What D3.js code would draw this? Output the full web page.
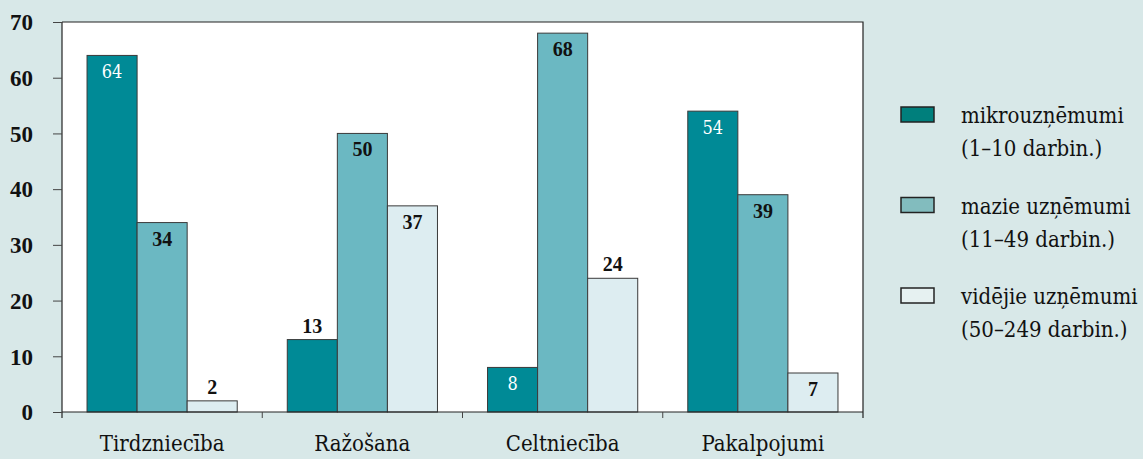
<!DOCTYPE html>
<html><head><meta charset="utf-8">
<script src="https://cdn.jsdelivr.net/npm/d3@7"></script>
<style>
html,body{margin:0;padding:0;background:#d8e8e8;}
svg{display:block;}
</style></head><body>
<svg id="c" width="1143" height="459"></svg>
<script>
const categories = ["Tirdzniecība", "Ražošana", "Celtniecība", "Pakalpojumi"];
const seriesNames = ["mikrouzņēmumi", "mazie uzņēmumi", "vidējie uzņēmumi"];
const seriesSub = ["(1–10 darbin.)", "(11–49 darbin.)", "(50–249 darbin.)"];
const micro = [64, 13, 8, 54];
const small = [34, 50, 68, 39];
const medium = [2, 37, 24, 7];
// label placement for each series/category: "in" = inside top, "out" = above bar
const microLabelPos = ["in", "out", "in", "in"];
const smallLabelPos = ["in", "in", "in", "in"];
const mediumLabelPos = ["out", "in", "out", "in"];
const yTicks = [0, 10, 20, 30, 40, 50, 60, 70];

const barColors = ["#008a96", "#6bb8c2", "#ddedf1"];
const legendColors = ["#007f7c", "#82bcbe", "#e6f1f1"];
const labelColors = ["#ffffff", "#111111", "#111111"];
const FONT_R = '"DejaVu Serif Condensed", "DejaVu Serif", serif';
const FONT_B = '"Liberation Serif", serif';

const series = [micro, small, medium];
const labelPos = [microLabelPos, smallLabelPos, mediumLabelPos];

const svg = d3.select("#c");
const L = 62, R = 863, T = 22, B = 412;

const x0 = d3.scaleBand().domain(categories).range([L, R]).paddingInner(0).paddingOuter(0);
const x1 = d3.scaleBand().domain(d3.range(3)).range([0, x0.bandwidth()]).paddingInner(0).paddingOuter(0.5);
const y = d3.scaleLinear().domain([0, 70]).range([B, T]);

svg.append("rect").attr("x", L).attr("y", T).attr("width", R - L).attr("height", B - T)
  .attr("fill", "#ffffff");

const g = svg.append("g");
categories.forEach((c, ci) => {
  series.forEach((s, si) => {
    const v = s[ci];
    const bx = x0(c) + x1(si);
    g.append("rect")
      .attr("x", bx).attr("y", y(v))
      .attr("width", x1.bandwidth()).attr("height", y(0) - y(v))
      .attr("fill", barColors[si]).attr("stroke", "#3a3a3a").attr("stroke-width", 1);
    const inside = labelPos[si][ci] === "in";
    const white = si === 0 && inside;
    g.append("text")
      .attr("x", bx + x1.bandwidth() / 2)
      .attr("y", inside ? y(v) + 23 : y(v) - 7)
      .attr("text-anchor", "middle")
      .style("font-family", white ? FONT_R : FONT_B)
      .style("font-size", white ? "18px" : "20px")
      .style("font-weight", white ? "normal" : "bold")
      .attr("fill", inside ? labelColors[si] : "#111")
      .text(v);
  });
});

svg.append("path").attr("d", `M${L},${T}H${R}V${B + 6}`).attr("fill", "none").attr("stroke", "#222").attr("stroke-width", 1.2);

const yAxis = svg.append("g").attr("transform", `translate(${L},0)`)
  .call(d3.axisLeft(y).tickValues(yTicks).tickSize(9).tickPadding(20).tickFormat(d3.format("d")));
yAxis.select(".domain").attr("d", `M0,${T}V${B + 6}`).attr("stroke", "#222").attr("stroke-width", 1.2);
yAxis.selectAll(".tick line").attr("stroke", "#444");
yAxis.selectAll("text").style("font-family", FONT_B).style("font-size", "23px")
  .style("font-weight", "bold").attr("fill", "#111").attr("dy", "0.34em");

const xAxis = svg.append("g").attr("transform", `translate(0,${B})`)
  .call(d3.axisBottom(x0).tickSize(0).tickPadding(35));
xAxis.select(".domain").attr("d", `M${L},0H${R}`).attr("stroke", "#222").attr("stroke-width", 1.2);
xAxis.selectAll("text").style("font-family", FONT_R).style("font-size", "22px")
  .attr("fill", "#111").attr("dy", "0.2em");
xAxis.selectAll("line.sep").data(categories.slice(1)).enter().append("line").attr("class", "sep")
  .attr("x1", d => x0(d)).attr("x2", d => x0(d)).attr("y1", 0).attr("y2", 6)
  .attr("stroke", "#444");

const leg = svg.append("g").attr("transform", "translate(901,107)");
seriesNames.forEach((n, i) => {
  const gy = i * 90.5;
  leg.append("rect").attr("x", 0).attr("y", gy).attr("width", 33).attr("height", 15)
    .attr("fill", legendColors[i]).attr("stroke", "#222").attr("stroke-width", 1.5);
  leg.append("text").attr("x", 60).attr("y", gy + 16).style("font-family", FONT_R).style("font-size", "22px").attr("fill", "#111").text(n);
  leg.append("text").attr("x", 60).attr("y", gy + 49).style("font-family", FONT_R).style("font-size", "22px").attr("fill", "#111").text(seriesSub[i]);
});
</script>
</body></html>
